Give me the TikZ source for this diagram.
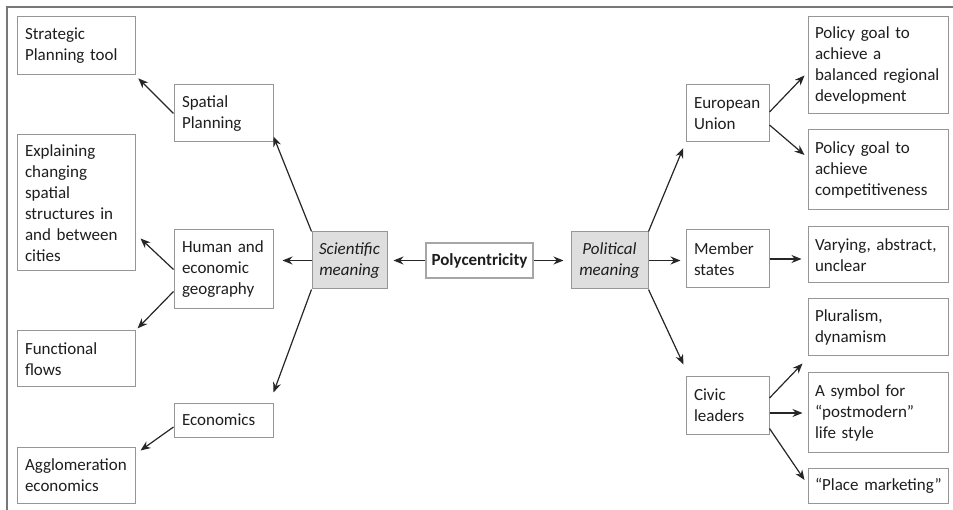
\documentclass[tikz,border=0pt]{standalone}
\usepackage{fontspec}
\setmainfont{Carlito}
\usetikzlibrary{arrows.meta,calc}
\definecolor{boxline}{RGB}{150,150,150}
\definecolor{framegray}{RGB}{120,120,120}
\definecolor{shade}{RGB}{222,222,222}
\definecolor{txt}{RGB}{30,30,30}
\hyphenpenalty=10000
\exhyphenpenalty=10000
\begin{document}
\begin{tikzpicture}[x=1pt,y=-1pt,
  every node/.style={font=\fontsize{17}{21}\selectfont, text=txt},
  box/.style={draw=boxline, line width=1pt, fill=white, align=left, inner xsep=8pt, inner ysep=2pt},
  lcol/.style={box, text width=102pt},
  mcol/.style={box, text width=83pt},
  rmcol/.style={box, text width=67pt},
  rcol/.style={box, inner xsep=7pt, text width=126pt},
  meaning/.style={draw=boxline, line width=1pt, fill=shade, align=center, inner sep=2pt, font=\fontsize{17}{21}\selectfont\itshape},
  arr/.style={-{Stealth[length=10pt,width=8pt]}, line width=1.2pt, black!85}
]
\useasboundingbox (0,0) rectangle (953,510);
% frame
\draw[framegray, line width=1.5pt] (7,510) -- (7,7) -- (953,7);

% left column
\node[lcol, minimum height=58pt] (strat) at (76,46) {Strategic\\Planning tool};
\node[lcol, minimum height=136pt] (expl) at (76,203) {Explaining\\changing\\spatial\\structures in\\and between\\cities};
\node[lcol, minimum height=56pt] (func) at (76,359) {Functional\\flows};
\node[lcol, minimum height=56pt] (aggl) at (76,475) {Agglomeration\\economics};

% middle-left column
\node[mcol, minimum height=57pt] (spat) at (223.5,113.5) {Spatial\\Planning};
\node[mcol, minimum height=79pt] (human) at (223.5,269.5) {Human and\\economic\\geography};
\node[mcol, minimum height=34pt] (econ) at (223.5,420) {Economics};

% centre
\node[meaning, minimum width=75pt, minimum height=57pt] (sci) at (349.5,260.5) {Scientific\\meaning};
\node[draw=black!35, line width=2pt, fill=white, minimum width=107pt, minimum height=35pt, inner sep=2pt, font=\fontsize{17}{21}\selectfont\bfseries] (poly) at (479.5,260.5) {Polycentricity};
\node[meaning, minimum width=77pt, minimum height=57pt] (pol) at (609.5,260.5) {Political\\meaning};

% middle-right column
\node[rmcol, minimum height=57pt] (eu) at (727.5,113.5) {European\\Union};
\node[rmcol, minimum height=58pt] (member) at (727.5,259) {Member\\states};
\node[rmcol, minimum height=57pt] (civic) at (727.5,405.5) {Civic\\leaders};

% right column
\node[rcol, minimum height=97pt] (bal) at (878,65.5) {Policy goal to\\achieve a\\balanced~regional\\development};
\node[rcol, minimum height=80pt] (comp) at (878,170) {Policy goal to\\achieve\\competitiveness};
\node[rcol, minimum height=56pt] (vary) at (878,255) {Varying, abstract,\\unclear};
\node[rcol, minimum height=57pt] (plur) at (878,327.5) {Pluralism,\\dynamism};
\node[rcol, minimum height=79pt] (sym) at (878,412.5) {A symbol for\\“postmodern”\\life style};
\node[rcol, minimum height=35pt] (place) at (878,485.5) {“Place~marketing”};

% connectors - left side
\draw[arr, shorten >=4pt] (spat.west) -- (strat.south east);
\draw[arr] (sci.north west) -- ([yshift=6pt]spat.south east);
\draw[arr, shorten >=9pt] (sci.west) -- (sci.west -| human.east);
\draw[arr] (sci.south west) -- ([yshift=10pt]econ.north east);
\draw[arr] (human.west) -- ($(expl.south east)+(5,-33)$);
\draw[arr, shorten >=3pt] ($(human.west)+(0,22)$) -- (func.north east);
\draw[arr] ($(econ.west)+(0,7)$) -- ($(aggl.north east)+(5,4)$);

% centre
\draw[arr, shorten >=6pt] (poly.west) -- (sci.east);
\draw[arr, shorten >=7pt] (poly.east) -- (pol.west);

% right side
\draw[arr, shorten >=6pt] (pol.north east) -- (eu.south west);
\draw[arr, shorten >=5pt] (pol.east) -- (pol.east -| member.west);
\draw[arr] (pol.south east) -- ($(civic.north west)+(-2,-12)$);
\draw[arr] ($(eu.east)+(0,-1.5)$) -- ($(bal.south west)+(-3,-39)$);
\draw[arr] ($(eu.east)+(0,11.5)$) -- ($(comp.west)+(-3,-15)$);
\draw[arr, shorten >=6pt] (member.east) -- (member.east -| vary.west);
\draw[arr] ($(civic.east)+(0,-7.5)$) -- ($(plur.south west)+(-5,7)$);
\coordinate (c2) at ($(civic.east)+(0,7.5)$);
\draw[arr, shorten >=5pt] (c2) -- (c2 -| sym.west);
\draw[arr] ($(civic.south east)+(0,-6)$) -- ($(place.west)+(-3,-5.5)$);
\end{tikzpicture}
\end{document}
